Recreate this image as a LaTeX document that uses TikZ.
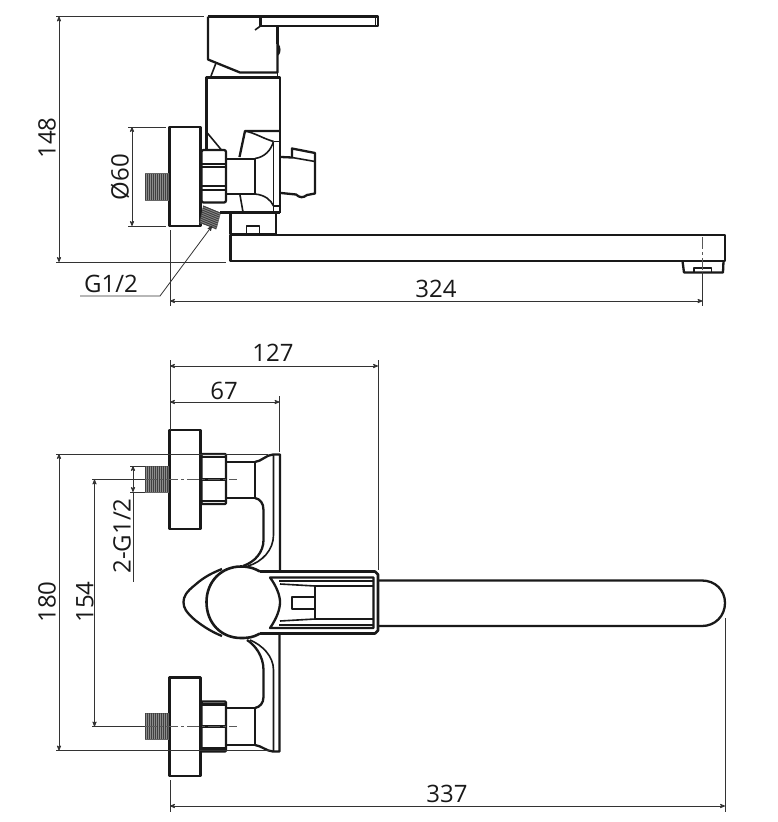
\documentclass[tikz,border=0pt]{standalone}
\usepackage{fontspec}
\setmainfont{Open Sans}
\usetikzlibrary{arrows}

\begin{document}
\begin{tikzpicture}[
    x=1pt, y=-1pt,
    outline/.style={line width=2.3pt, line join=round, black!90},
    inner line/.style={line width=1.6pt, line join=round, black!90},
    dim line/.style={line width=0.8pt, black!80},
    dim/.style={line width=0.8pt, black!80, <->, >=stealth'},
    centre line/.style={line width=1pt, black!65, dash pattern=on 12pt off 3pt on 3pt off 3pt},
    thread/.style={fill=black!45, draw=black!60, line width=0.6pt},
    thread line/.style={line width=1pt, black!75},
    every node/.style={color=black!90, font=\fontsize{24}{24}\selectfont, inner sep=0pt}
    ]
    \useasboundingbox (0,0) rectangle (777,822);

    % ---- side view ----
    % lever and handle block
    \draw[outline] (208,16.5) -- (378,16.5) -- (378,26) -- (260.5,26) -- (260.5,16.5);
    \draw[inner line] (375.5,17) -- (375.5,26);
    \draw[outline] (208,16.5) -- (208,59.5) -- (240,72.5) -- (277.5,72.5) -- (277.5,44)
        .. controls (280,48) and (280,52) .. (277.5,55);
    \draw[outline] (277.5,26) -- (277.5,44);
    \draw[inner line] (260.5,26) -- (255,30);
    \draw[inner line] (216,63) -- (211,76);
    \draw[inner line] (277.5,72.5) -- (277.5,77);
    % body
    \draw[outline] (206.5,149) -- (206.5,77.5) -- (280,77.5) -- (280,213);
    \draw[inner line] (206.5,132) -- (221.5,150);
    % flange and thread
    \draw[outline] (169.5,127) rectangle (200.5,226);
    \draw[thread] (145,173.5) rectangle (168,200);
    \foreach \x in {145.5,147.5,...,168} {
        \draw[thread line] (\x,173.5) -- (\x,200);
    }
    \draw[thread] (203.5,206) -- (220.5,213) -- (216.5,228) -- (200,223) -- cycle;
    \foreach \y in {206,208,...,222} {
        \draw[thread line] (203-0.22*\y+45.3,\y) -- (220-0.22*\y+45.3,\y+7);
    }
    % nut
    \draw[outline, rounded corners=2pt] (201.5,150) rectangle (226,202.5);
    \draw[inner line] (202,164) -- (226,164) (202,167) -- (226,167);
    \draw[inner line] (202,186) -- (226,186) (202,190) -- (226,190);
    \draw[outline] (201,150) -- (201,203);
    % neck and flare
    \draw[outline] (226,159) rectangle (255,194);
    \draw[inner line] (255,158.5) .. controls (265,157) and (271,150) .. (273.5,141.5);
    \draw[inner line] (255,194) .. controls (265,195) and (271,200) .. (273.5,206);
    \draw[outline] (239.5,157) -- (245,131) -- (279,131);
    \draw[inner line] (245,131) .. controls (255,133) and (262,138) .. (273.5,141.5);
    \draw[inner line] (240,195) -- (243,212);
    \draw[inner line] (273.5,141.5) -- (279,141.5) (273.5,141.5) -- (273.5,212);
    \draw[inner line] (273.5,206) -- (279,206);
    % knob
    \draw[outline] (281,157) -- (292,157.5) -- (292,148.5) -- (315,153) -- (315,193.5)
        -- (307,195) .. controls (303,198) and (300,198) .. (296,194.5) -- (281,193);
    \draw[inner line] (292,157.5) -- (315,161.5);
    % base
    \draw[outline] (220,212.5) -- (280,212.5);
    \draw[outline] (230.5,213) -- (230.5,234) -- (276,234) -- (276,213);
    \draw[inner line] (246.5,234) -- (246.5,226) -- (259.5,226) -- (259.5,234);
    % spout
    \draw[outline] (276,235) -- (725,235) -- (725,261) -- (230.5,261) -- (230.5,235) -- (276,235);
    \draw[outline] (682.5,261) -- (684,272.5) -- (723,272.5) -- (723.5,261);
    \draw[inner line] (694,272) -- (694,268) -- (711.5,268) -- (711.5,272);
    \draw[centre line] (702.5,237) -- (702.5,272);

    % dimensions of the side view
    \draw[dim line] (56,16.5) -- (204,16.5);
    \draw[dim line] (56,262) -- (226,262);
    \draw[dim] (59,16.5) -- (59,262);
    \node[rotate=90] (height) at (47,138) {148};
    \draw[dim line] (128,127) -- (166,127);
    \draw[dim line] (128,226) -- (166,226);
    \draw[dim] (132,127) -- (132,226);
    \node[rotate=90] (flange) at (120,177) {Ø60};
    \draw[dim line] (170,230) -- (170,306);
    \draw[dim line] (702.5,272) -- (702.5,306);
    \draw[dim] (170,301) -- (702.5,301);
    \node (reach) at (436,289) {324};
    \node (port) at (111,284) {G1/2};
    \coordinate (port end) at (212,226);
    \draw[dim line, ->, >=stealth'] (80,296) -- (160,296) -- (port end);

    % ---- top view ----
    % upper flange and thread
    \draw[outline] (169.5,430) rectangle (200.5,529);
    \draw[thread] (145,466) rectangle (168,492);
    \foreach \x in {145.5,147.5,...,168} {
        \draw[thread line] (\x,466) -- (\x,492);
    }
    % upper nut, neck and wall
    \draw[outline, rounded corners=1pt] (201.5,454) rectangle (226,504);
    \draw[outline] (201,454) -- (201,504);
    \draw[outline] (202,457) -- (226,457) (202,501) -- (226,501);
    \draw[outline] (202,479.5) -- (226,479.5);
    \draw[outline] (226,462) -- (255,462) -- (255,498) -- (226,498);
    \draw[outline] (255,462) .. controls (262,461) and (266,455) .. (273,454.5) -- (280,454.5) -- (280,571);
    \draw[inner line] (273.5,455) -- (273.5,535) .. controls (273.5,550) and (262,562) .. (248,566);
    \draw[outline] (255,498) .. controls (260,499) and (263.5,503) .. (263.5,510) -- (263.5,540)
        .. controls (263.5,552) and (255,562) .. (243,566);
    % lower flange and thread
    \draw[outline] (169.5,677.5) rectangle (200.5,776);
    \draw[thread] (145,713) rectangle (168,739);
    \foreach \x in {145.5,147.5,...,168} {
        \draw[thread line] (\x,713) -- (\x,739);
    }
    % lower nut, neck and wall
    \draw[outline, rounded corners=1pt] (201.5,701.5) rectangle (226,751.5);
    \draw[outline] (201,701.5) -- (201,751.5);
    \draw[outline] (202,704.5) -- (226,704.5) (202,748.5) -- (226,748.5);
    \draw[outline] (202,726.5) -- (226,726.5);
    \draw[outline] (226,708) -- (255,708) -- (255,745) -- (226,745);
    \draw[outline] (255,745) .. controls (262,746) and (266,751) .. (273,751.5) -- (279.5,751.5) -- (279.5,633);
    \draw[inner line] (273.5,751) -- (273.5,670) .. controls (273.5,656) and (262,645) .. (250,640);
    \draw[outline] (255,708) .. controls (260,707) and (263.5,703) .. (263.5,697) -- (263.5,670)
        .. controls (263.5,656) and (255,645) .. (247,640);
    % handle
    \draw[outline, line width=2.6pt] (260,571.5) -- (375,571.5) -- (378,574.5) -- (378,630.5) -- (375,633.5) -- (260,633.5);
    \draw[outline, line width=2.6pt] (260,571.5) .. controls (252,567) and (246,566.5) .. (241,566.5)
        .. controls (221,566.5) and (206.5,582) .. (206.5,602)
        .. controls (206.5,623) and (221,638) .. (241,638)
        .. controls (246,638) and (252,638) .. (260,633.5);
    \draw[outline] (222,569) .. controls (212,573) and (204,577) .. (195,585)
        .. controls (186,592) and (183.5,597) .. (183.5,602)
        .. controls (183.5,608) and (186,612) .. (195,620)
        .. controls (204,627) and (212,632) .. (222,636);
    \draw[outline] (270,577.5) .. controls (277,587) and (280,596) .. (280,602)
        .. controls (280,609) and (277,618) .. (270,628)
        -- (373.5,628) -- (373.5,577.5) -- cycle;
    \draw[inner line] (279,581) -- (373,581) (279,625) -- (373,625);
    \draw[inner line] (280,584) -- (315,586) -- (373,586) (280,621) -- (315,619) -- (373,619);
    \draw[inner line] (315,586) -- (315,619);
    \draw[outline] (315,597) -- (292,597) -- (292,609) -- (315,609);
    % spout
    \draw[outline] (378,580.5) -- (702,580.5)
        .. controls (715,580.5) and (725,590) .. (725,603)
        .. controls (725,616) and (715,626) .. (702,626) -- (378,626);

    % centre lines
    \draw[centre line] (145,479.5) -- (237,479.5);
    \draw[centre line] (145,726.5) -- (237,726.5);

    % dimensions of the top view
    \draw[dim line] (170,360) -- (170,430);
    \draw[dim line] (378,360) -- (378,570);
    \draw[dim] (170,366) -- (378,366);
    \node (handle reach) at (273,353) {127};
    \draw[dim line] (279.5,396) -- (279.5,452);
    \draw[dim] (170,402) -- (279.5,402);
    \node (wall gap) at (224,391) {67};
    \draw[dim line] (56,454) -- (268,454);
    \draw[dim line] (56,750.5) -- (270,750.5);
    \draw[dim] (59,454) -- (59,750.5);
    \node[rotate=90] (width) at (47,602) {180};
    \draw[dim line] (92,479.5) -- (145,479.5);
    \draw[dim line] (92,726.5) -- (145,726.5);
    \draw[dim] (94.5,479.5) -- (94.5,726.5);
    \node[rotate=90] (centres) at (85,602) {154};
    \draw[dim line] (130,466) -- (145,466);
    \draw[dim line] (130,492) -- (145,492);
    \draw[dim] (133,466) -- (133,492);
    \draw[dim line] (133,492) -- (133,582);
    \node[rotate=90] (ports) at (122,536) {2-G1/2};
    \draw[dim line] (170,780) -- (170,812);
    \draw[dim line] (725,618) -- (725,812);
    \draw[dim] (170,806) -- (725,806);
    \node (length) at (447,794) {337};
\end{tikzpicture}
\end{document}
